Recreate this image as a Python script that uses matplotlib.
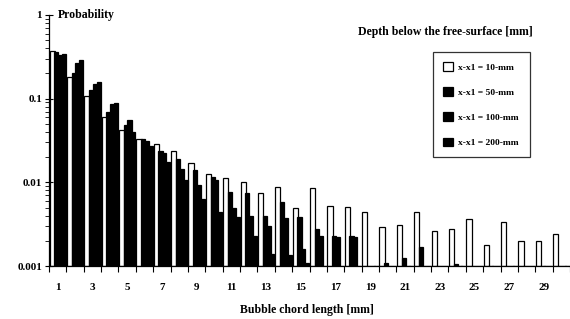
import matplotlib
matplotlib.use("Agg")
import matplotlib.pyplot as plt
from matplotlib.patches import Patch
import numpy as np

chord = list(range(1, 31))
p10 = [0.37, 0.18, 0.109, 0.060, 0.042, 0.033, 0.029, 0.024, 0.017, 0.0127,
       0.0114, 0.0101, 0.0075, 0.0089, 0.0049, 0.0086, 0.0052, 0.0051, 0.0044, 0.0029,
       0.0031, 0.0044, 0.0026, 0.0028, 0.0036, 0.0018, 0.0034, 0.0020, 0.0020, 0.0024]
p50 = [0.36, 0.20, 0.128, 0.069, 0.048, 0.033, 0.024, 0.019, 0.0139, 0.0116,
       0.0077, 0.0075, 0.0040, 0.0058, 0.0039, 0.0028, 0.0023, 0.0023, 0.001, 0.0011,
       0.00124, 0.0017, 0.001, 0.00105, 0.001, 0.001, 0.001, 0.001, 0.001, 0.001]
p100 = [0.33, 0.27, 0.15, 0.086, 0.055, 0.0316, 0.0223, 0.0146, 0.0092, 0.0106,
        0.0050, 0.0040, 0.0030, 0.0037, 0.0016, 0.0023, 0.0022, 0.0022, 0.001, 0.001,
        0.001, 0.001, 0.001, 0.001, 0.001, 0.001, 0.001, 0.001, 0.001, 0.001]
p200 = [0.34, 0.29, 0.16, 0.088, 0.040, 0.0275, 0.0175, 0.0106, 0.0064, 0.0044,
        0.0038, 0.0023, 0.0014, 0.00135, 0.0011, 0.001, 0.001, 0.001, 0.001, 0.001,
        0.001, 0.001, 0.001, 0.001, 0.001, 0.001, 0.001, 0.001, 0.001, 0.001]
labels = ["x-x1 = 10-mm", "x-x1 = 50-mm", "x-x1 = 100-mm", "x-x1 = 200-mm"]
yticks = [0.001, 0.01, 0.1, 1]
yticklabels = ["0.001", "0.01", "0.1", "1"]
xlabels = [str(v) for v in range(1, 30, 2)]

plt.rcParams['font.family'] = ['Liberation Serif', 'DejaVu Serif']

fig = plt.figure(figsize=(5.7, 3.19), dpi=100)
ax = fig.add_axes([49/570, 1-266/319, 1-49/570, (266-15)/319])

x = np.array(chord, dtype=float)
series = [p10, p50, p100, p200]
faces = ['white', 'black', 'black', 'black']
offs = [-0.32, -0.08, 0.14, 0.36]
widths = [0.30, 0.24, 0.24, 0.24]
for s, fc, o, w in zip(series, faces, offs, widths):
    ax.bar(x + o, np.array(s) - 0.001, width=w, bottom=0.001, color=fc,
           edgecolor='black', linewidth=0.9)

ax.set_yscale('log')
ax.set_ylim(0.001, 1)
ax.set_xlim(0.5, 30.5)
ax.set_yticks(yticks)
ax.set_yticklabels(yticklabels, fontsize=8, fontweight='bold')
ax.tick_params(axis='y', which='major', direction='inout', length=6, width=0.8, pad=2)
ax.tick_params(axis='y', which='minor', direction='out', length=3, width=0.6)

ax.set_xticks(np.arange(0.5, 31, 1))
ax.set_xticklabels([])
ax.tick_params(axis='x', which='major', direction='out', length=4, width=0.8)
ax.set_xticks(np.arange(1, 30, 2), minor=True)
ax.set_xticklabels(xlabels, minor=True, fontsize=8, fontweight='bold')
ax.tick_params(axis='x', which='minor', length=0, pad=12)

for sp in ['top', 'right']:
    ax.spines[sp].set_visible(False)
ax.spines['left'].set_linewidth(0.9)
ax.spines['bottom'].set_linewidth(0.9)

fig.text(58/570, 1-15/319, "Probability", fontsize=8.5, fontweight='bold', va='center', ha='left')
fig.text(533/570, 1-32/319, "Depth below the free-surface [mm]", fontsize=8.5, fontweight='bold',
         va='center', ha='right')
fig.text(307/570, 1-310/319, "Bubble chord length [mm]", fontsize=8.5, fontweight='bold',
         va='center', ha='center')

handles = [Patch(facecolor=fc, edgecolor='black', linewidth=0.9) for fc in faces]
leg = fig.legend(handles, labels, loc='upper left', bbox_to_anchor=(433/570, 1-52/319),
                 borderaxespad=0, frameon=True, fancybox=False, borderpad=1.1,
                 labelspacing=1.65, handlelength=1.0, handleheight=1.0, handletextpad=0.6,
                 prop={'family': 'Liberation Serif', 'weight': 'bold', 'size': 6.8})
leg.get_frame().set_edgecolor('black')
leg.get_frame().set_linewidth(0.9)

fig.savefig("out.png", dpi=100)
